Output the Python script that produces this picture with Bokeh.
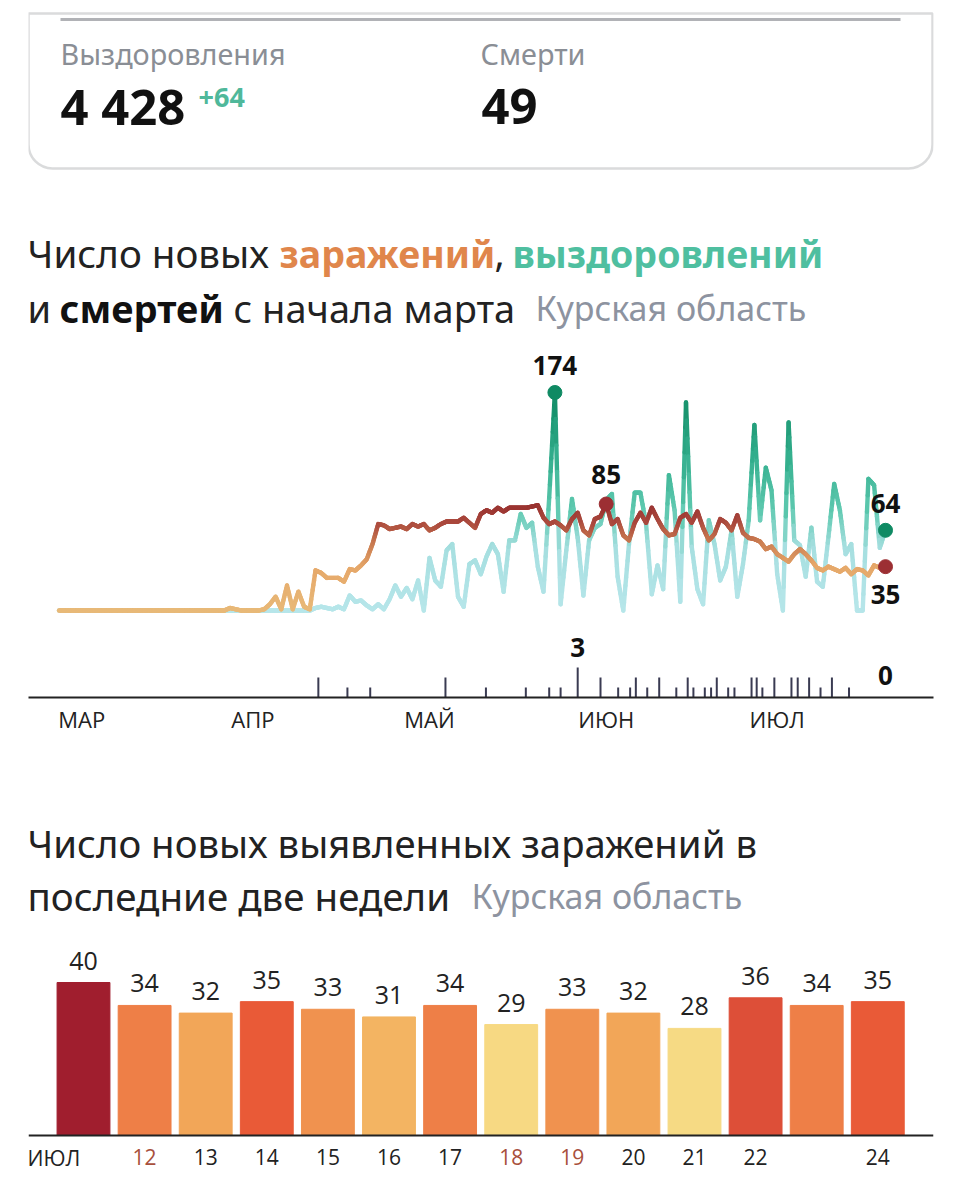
from bokeh.core.properties import value
from bokeh.embed import file_html
from bokeh.layouts import column
from bokeh.models import BoxAnnotation, FixedTicker, Label, Range1d
from bokeh.plotting import figure
from bokeh.resources import INLINE

# daily series, day 0 is 1 March, day 145 is 24 July
bar_days = [11, 12, 13, 14, 15, 16, 17, 18, 19, 20, 21, 22, 23, 24]
bar_values = [40, 34, 32, 35, 33, 31, 34, 29, 33, 32, 28, 36, 34, 35]
bar_ticks = ["", "12", "13", "14", "15", "16", "17", "18", "19", "20", "21", "22", "", "24"]
weekend_days = [12, 18, 19]

infected = [0] * 30 + [
    2, 1, 0, 0, 0, 0, 1, 5, 11, 1,
    20, 1, 15, 3, 1, 32, 30, 26, 26, 26,
    23, 33, 32, 36, 41, 53, 69, 68, 65, 66,
    67, 65, 69, 67, 69, 64, 66, 69, 71, 71,
    71, 74, 70, 66, 77, 80, 78, 82, 79, 82,
    82, 82, 82, 83, 84, 74, 69, 71, 68, 64,
    73, 78, 64, 60, 73, 75, 85, 69, 73, 60,
    56, 70, 78, 70, 82, 73, 65, 60, 61, 74,
    77, 70, 79, 66, 56, 61, 73, 70, 64, 76,
    62, 58, 57, 55, 49, 51, 45, 42, 39, 45, 49, 45,
] + bar_values

recovered = [0] * 40 + [
    0, 0, 0, 0, 0, 2, 3, 2, 1, 3,
    1, 12, 7, 8, 4, 1, 5, 1, 9, 20,
    11, 18, 9, 24, 0, 42, 24, 19, 48, 53,
    11, 3, 37, 40, 29, 43, 53, 45, 15, 56,
    56, 77, 66, 70, 35, 15, 90, 174, 5, 48,
    89, 58, 12, 56, 66, 69, 88, 93, 27, 0,
    53, 94, 94, 69, 13, 36, 17, 108, 80, 7,
    166, 51, 17, 5, 72, 53, 24, 35, 64, 11,
    37, 72, 148, 72, 114, 96, 29, 0, 150, 56,
    52, 27, 66, 23, 19, 59, 101, 80, 45, 53,
    0, 0, 105, 100, 50, 64,
]

# the ticks do not sit exactly on whole days
death_days = [45.5, 50.6, 54.6, 67.8, 74.9, 81.9, 86, 88, 91, 95, 98.1, 100.2, 101.2, 103.2, 105.3, 108.3, 110.3,
              111.3, 113.3, 114.4, 115.4, 117.4, 118.5, 121.5, 122.4, 123.4, 125.5, 128.5, 129.6, 131.6, 133.6,
              135.6, 138.6]
death_values = [2, 1, 1, 2, 1, 1, 1, 1, 3, 2, 1, 1, 2, 1, 2, 1, 2,
                1, 1, 1, 2, 1, 1, 2, 2, 1, 2, 2, 2, 2, 1, 2, 1]

# labels are centred a few days after the first of the month
month_days = [4, 34, 65, 96, 126]
month_labels = ["МАР", "АПР", "МАЙ", "ИЮН", "ИЮЛ"]

days = list(range(146))
assert len(infected) == 146 and len(recovered) == 146

# colours by value, the chart shades its lines and bars this way
RECOVERED_STOPS = [(0, "#b7e6ea"), (50, "#a6dfe0"), (80, "#5fc9b0"), (120, "#35b08f"), (174, "#0f8a63")]
INFECTED_STOPS = [(0, "#e8b978"), (35, "#e6a86a"), (55, "#c97a50"), (70, "#ab4a3e"), (85, "#97302f")]
BAR_COLORS = {28: "#f6da84", 29: "#f7d983", 31: "#f3b462", 32: "#f2a658", 33: "#f0924f",
              34: "#ee7f47", 35: "#e95a37", 36: "#dd4f38", 40: "#a01e2e"}

FONT = "Open Sans"
TITLE_FONT = "Noto Sans"
WIDTH = 950
# every figure has the same frame, the column lines them up anyway
LEFT = 28
RIGHT = 933
GREY = "#8d93a0"


def shade(val, stops):
    for (v0, c0), (v1, c1) in zip(stops, stops[1:]):
        if val <= v1:
            t = (val - v0) / (v1 - v0)
            rgb = [round(int(c0[i:i + 2], 16) * (1 - t) + int(c1[i:i + 2], 16) * t) for i in (1, 3, 5)]
            return "#%02x%02x%02x" % tuple(rgb)
    return stops[-1][1]


def add_shaded_line(p, xs, ys, stops, pieces=8):
    # bokeh has no gradient stroke, so every day to day step is cut in short pieces
    seg_x, seg_y, colors = [], [], []
    for x0, x1, y0, y1 in zip(xs, xs[1:], ys, ys[1:]):
        for i in range(pieces):
            a, b = i / pieces, (i + 1) / pieces
            seg_x.append([x0 + (x1 - x0) * a, x0 + (x1 - x0) * b])
            seg_y.append([y0 + (y1 - y0) * a, y0 + (y1 - y0) * b])
            colors.append(shade((seg_y[-1][0] + seg_y[-1][1]) / 2, stops))
    p.multi_line(seg_x, seg_y, line_color=colors, line_width=4.4, line_cap="round", line_join="round")


def new_figure(height, x_range, y_range, bottom=0):
    p = figure(width=WIDTH, height=height, x_range=x_range, y_range=y_range,
               output_backend="svg", toolbar_location=None, min_border_left=LEFT,
               min_border_right=WIDTH - RIGHT, min_border_top=0, min_border_bottom=bottom)
    p.outline_line_color = None
    p.grid.visible = False
    return p


def put_text(p, top, text, x, y, size, color="#222222", bold=False, font=TITLE_FONT):
    # x and y are measured on the page, screen units count from the frame
    p.add_layout(Label(x=x - LEFT - 1, y=p.height - (y - 2.5 - top), x_units="screen", y_units="screen", text=text,
                       text_font=font, text_font_size=f"{size}px", text_color=color,
                       text_font_style="bold" if bold else "normal", text_baseline="middle"))


def value_text(p, xs, ys, labels, offset, size=26, bold=True, **kw):
    p.text(xs, ys, text=labels, y_offset=offset, text_align="center", text_baseline="middle",
           text_font=value(FONT), text_font_style="bold" if bold else "normal",
           text_font_size=f"{size}px", **kw)


# card and first title, page y 0 to 340
head = new_figure(340, Range1d(LEFT, RIGHT), Range1d(340, 0))
head.axis.visible = False
head.add_layout(BoxAnnotation(left=28, right=932, top=13, bottom=168, fill_color="white",
                              line_color="#85878c", line_width=2.5, border_radius=(0, 0, 24, 24)))
head.segment([60], [19], [900], [19], line_color="#7d7f85", line_width=3)
put_text(head, 0, "Выздоровления", 61, 55, 28.8, "#8a8e95")
put_text(head, 0, "Смерти", 481, 55, 28.8, "#8a8e95")
put_text(head, 0, "4 428", 61, 108, 49, "#111111", True)
put_text(head, 0, "+64", 199, 99, 27, "#4fb89a", True)
put_text(head, 0, "49", 482, 108, 49, "#111111", True)

put_text(head, 0, "Число новых", 28, 255, 38.5)
put_text(head, 0, "заражений", 280, 255, 37.5, "#e0864b", True)
put_text(head, 0, ",", 495, 255, 38)
put_text(head, 0, "выздоровлений", 513, 255, 37.5, "#4fbfa0", True)
put_text(head, 0, "и", 28, 310, 38)
put_text(head, 0, "смертей", 60, 310, 38, "#111111", True)
put_text(head, 0, "с начала марта", 234, 310, 38)
put_text(head, 0, "Курская область", 536, 310, 34, GREY)

# infections and recoveries, page y 340 to 625
ORIGIN = 58.5
PX_PER_DAY = 5.7
PX_PER_CASE = 1.253
line_fig = new_figure(285, Range1d((LEFT - ORIGIN) / PX_PER_DAY, (RIGHT - ORIGIN) / PX_PER_DAY),
                      Range1d(-15 / PX_PER_CASE, 270 / PX_PER_CASE))
line_fig.axis.visible = False
add_shaded_line(line_fig, days, recovered, RECOVERED_STOPS)
add_shaded_line(line_fig, days, infected, INFECTED_STOPS)

green_days = [87, 145]
green_vals = [recovered[d] for d in green_days]
red_days = [96, 145]
red_vals = [infected[d] for d in red_days]
line_fig.scatter(green_days, green_vals, size=14, color="#0f8a63")
line_fig.scatter(red_days, red_vals, size=14, color="#9c2f33")
value_text(line_fig, green_days, green_vals, [str(v) for v in green_vals], -27, text_color="#111111")
value_text(line_fig, red_days[:1], red_vals[:1], [str(red_vals[0])], -29, text_color="#111111")
value_text(line_fig, red_days[1:], red_vals[1:], [str(red_vals[1])], 28, text_color="#111111")

# deaths, page y 625 to 740
death_fig = new_figure(115, Range1d((LEFT - ORIGIN) / PX_PER_DAY, (RIGHT - ORIGIN) / PX_PER_DAY),
                       Range1d(0, 7.2), bottom=43)
death_fig.yaxis.visible = False
death_fig.xaxis.ticker = FixedTicker(ticks=month_days)
death_fig.xaxis.major_label_overrides = dict(zip(month_days, month_labels))
death_fig.xaxis.major_label_text_font = FONT
death_fig.xaxis.major_label_text_font_size = "22px"
death_fig.xaxis.major_label_text_color = "#222222"
death_fig.xaxis.major_label_standoff = 0
death_fig.xaxis.major_tick_line_color = None
death_fig.xaxis.minor_tick_line_color = None
death_fig.xaxis.axis_line_color = "#222222"
death_fig.xaxis.axis_line_width = 2
death_fig.segment(death_days, [0] * len(death_days), death_days, death_values, line_color="#3a3b52", line_width=2)
value_text(death_fig, [91], [3], ["3"], -20, text_color="#111111")
value_text(death_fig, [145], [0], ["0"], -22, text_color="#111111")

# last two weeks, page y 740 to 1182
BARS_TOP = 740
BAR_STEP = 61.1
BAR_SCALE = 3.825
bars_fig = new_figure(442, Range1d(11 + (LEFT - 83) / BAR_STEP, 11 + (RIGHT - 83) / BAR_STEP),
                      Range1d(-47 / BAR_SCALE, 395 / BAR_SCALE))
bars_fig.axis.visible = False
bars_fig.vbar(bar_days, width=0.865, top=bar_values, color=[BAR_COLORS[v] for v in bar_values])
bars_fig.segment([11 + (LEFT - 83) / BAR_STEP], [0], [11 + (RIGHT - 83) / BAR_STEP], [0],
                 line_color="#222222", line_width=2)
value_text(bars_fig, bar_days, bar_values, [str(v) for v in bar_values], -22, size=25, bold=False, text_color="#222222")
value_text(bars_fig, bar_days, [0] * len(bar_days), bar_ticks, 21, size=21, bold=False,
           text_color=["#a8503c" if d in weekend_days else "#222222" for d in bar_days])
put_text(bars_fig, BARS_TOP, "ИЮЛ", 28, 1160, 21, font=FONT)
put_text(bars_fig, BARS_TOP, "Число новых выявленных заражений в", 28, 845, 38.3)
put_text(bars_fig, BARS_TOP, "последние две недели", 28, 898, 38.5)
put_text(bars_fig, BARS_TOP, "Курская область", 472, 898, 34, GREY)

page = column(head, line_fig, death_fig, bars_fig, spacing=0)
open("out.html", "w").write(file_html(page, INLINE))
